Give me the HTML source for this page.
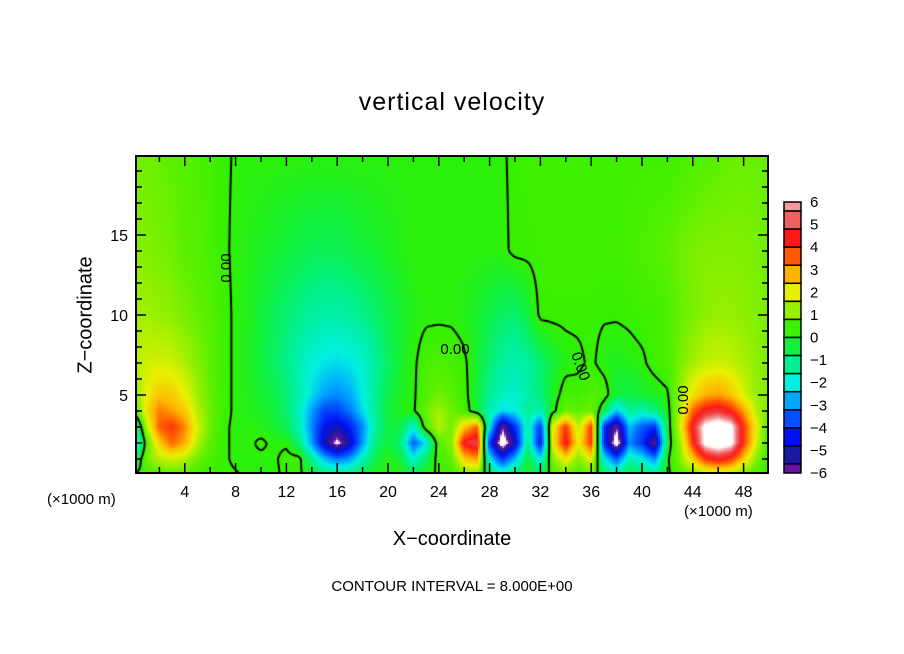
<!DOCTYPE html>
<html><head><meta charset="utf-8"><style>
body{margin:0;background:#fff;width:904px;height:654px;overflow:hidden;position:relative;font-family:"Liberation Sans",sans-serif}
.t{position:absolute;white-space:nowrap;color:#000}
</style></head><body>
<div class="t" style="left:0;width:904px;text-align:center;top:88px;font-size:25px;letter-spacing:1px">vertical velocity</div>
<div class="t" style="left:86px;top:315px;font-size:20px;transform:translate(-50%,-50%) rotate(-90deg)">Z−coordinate</div>
<div class="t" style="left:0;width:904px;text-align:center;top:528px;font-size:20px">X−coordinate</div>
<div class="t" style="left:47px;top:491px;font-size:15px">(×1000 m)</div>
<div class="t" style="left:684px;top:503px;font-size:15px">(×1000 m)</div>
<div class="t" style="left:0;width:904px;text-align:center;top:578px;font-size:15px">CONTOUR INTERVAL = 8.000E+00</div>
<canvas id="cv" width="904" height="654" style="position:absolute;left:0;top:0"></canvas>
<svg id="sv" width="904" height="654" style="position:absolute;left:0;top:0"></svg>
<script>
const xKm=[0,1,2,3,4,5,6,7,8,9,10,11,12,13,14,15,16,17,18,19,20,21,22,23,24,25,26,27,28,29,30,31,32,33,34,35,36,37,38,39,40,41,42,43,44,45,46,47,48,49,50];
const zKm=[0,1,2,3,4,5,7,10,14,20];
const w0=[0.1,0.2,0.4,0.5,0.4,0.2,0.1,0.1,0.05,-0.1,-0.1,-0.1,0.1,0.1,-0.3,-0.7,-0.9,-0.8,-0.5,-0.2,-0.1,-0.1,-0.5,-0.2,0.1,0.2,0.7,0.9,-0.6,-1.2,-0.7,-0.1,-0.6,0.3,0.6,0.3,0.6,-0.6,-1,-0.4,-0.6,-0.9,-0.1,0.3,0.7,1.2,1.3,1.2,0.7,0.3,0.1];
const w1=[-1,0.8,1.5,1.8,1.5,0.8,0.3,0.1,-0.1,-0.1,-0.1,-0.1,0.2,0.2,-1.2,-2.5,-3.2,-2.8,-1.6,-0.6,-0.2,-0.5,-1.8,-0.8,0.3,0.6,2.5,3,-2,-4,-2.5,-0.5,-2,1,2.2,1,2,-2,-3.5,-1.5,-2,-3,-0.1,1,2.5,4,4.5,4,2.5,1,0.1];
const w2=[-3,0.5,2.5,3.5,2.8,1.5,0.6,0.1,-0.1,-0.1,0.1,-0.1,-0.1,-1,-2.8,-5,-6.5,-5,-2.8,-1,-0.5,-1,-3.5,-2,0.5,1,4.5,5,-4,-7,-5,-1,-4.5,2,4.5,2,4,-4,-7,-3,-4,-6,-0.5,1.2,4,6.5,7,6.5,4,1.8,0.1];
const w3=[-2,1.5,3.6,4,3.2,1.8,0.8,0.1,-0.1,-0.1,-0.2,-0.4,-0.7,-1.5,-3,-4.5,-5,-4.3,-3,-1.3,-0.5,-0.6,-1.8,0.5,1.5,0.8,2.5,3.5,-2,-6,-4,-1.5,-4,2,4,1.5,4,-4,-6,-2.5,-3.5,-4,-0.5,1.8,4.5,6.5,7,6.5,4,2,0.3];
const w4=[0.3,2.2,3.3,3,2.5,1.5,0.8,0.2,-0.1,-0.2,-0.3,-0.5,-0.9,-1.6,-2.8,-3.8,-3.8,-3.2,-2.2,-1.2,-0.5,-0.2,-0.1,0.8,1.3,0.8,0.3,-0.4,-1.5,-2.2,-2,-1.2,-1.5,-0.2,0.8,0.6,0.8,-0.5,-2.5,-1.2,-1.5,-1,-0.3,1.5,3.5,4.5,4.8,4.2,3,1.5,0.8];
const w5=[1,2,2.6,2.5,2,1.3,0.7,0.2,-0.1,-0.2,-0.4,-0.6,-0.9,-1.4,-2.2,-2.8,-3,-2.7,-2,-1.2,-0.6,-0.3,-0.1,0.5,0.8,0.6,0.2,-0.5,-1.2,-1.6,-1.8,-1.4,-1,-0.3,0.3,0.2,0.5,0.3,-0.5,-0.6,-0.4,-0.3,-0.1,1.2,2.2,2.8,3,2.6,1.8,1.2,1];
const w7=[1.5,1.7,1.8,1.7,1.4,1,0.6,0.2,-0.1,-0.3,-0.5,-0.8,-1.1,-1.5,-1.9,-2.1,-2.2,-2.1,-1.8,-1.3,-0.8,-0.4,-0.1,0.3,0.4,0.3,0.1,-0.4,-0.9,-1.3,-1.5,-1.3,-0.9,-0.5,-0.2,-0.1,0.1,-0.2,-0.3,-0.2,-0.1,0.2,0.4,0.9,1.3,1.6,1.7,1.6,1.4,1.1,0.9];
const w10=[1.3,1.3,1.2,1.1,0.9,0.7,0.5,0.2,-0.1,-0.2,-0.5,-0.7,-0.9,-1.1,-1.3,-1.4,-1.4,-1.3,-1.1,-0.9,-0.6,-0.4,-0.2,-0.1,-0.1,-0.1,-0.2,-0.4,-0.6,-0.8,-0.9,-0.5,0.1,0.1,0.1,0.1,0.1,0.05,0.05,0.1,0.2,0.2,0.4,0.7,0.9,1.1,1.2,1.2,1.1,1,0.9];
const w14=[1,1,0.9,0.8,0.6,0.5,0.3,0.1,-0.1,-0.2,-0.3,-0.4,-0.5,-0.6,-0.7,-0.7,-0.7,-0.6,-0.5,-0.4,-0.3,-0.2,-0.1,-0.1,-0.1,-0.1,-0.1,-0.1,-0.1,-0.1,0.1,0.1,0.15,0.2,0.2,0.2,0.2,0.2,0.2,0.3,0.4,0.5,0.6,0.8,0.9,1,1,1,1,0.9,0.8];
const w20=[0.8,0.8,0.7,0.6,0.5,0.4,0.3,0.1,-0.05,-0.1,-0.1,-0.1,-0.1,-0.1,-0.1,-0.1,-0.1,-0.1,-0.1,-0.1,-0.1,-0.1,-0.1,-0.1,-0.1,-0.1,-0.1,-0.1,-0.1,-0.05,0.1,0.2,0.2,0.2,0.2,0.2,0.2,0.2,0.2,0.2,0.2,0.2,0.2,0.3,0.4,0.5,0.6,0.7,0.7,0.7,0.7];
const rows=[w0,w1,w2,w3,w4,w5,w7,w10,w14,w20];
const xTicks=[4,8,12,16,20,24,28,32,36,40,44,48];
const yTicks=[5,10,15];
const cbLabels=[6,5,4,3,2,1,0,-1,-2,-3,-4,-5,-6];
const cbColors=["#f59a9a","#f06060","#ff1818","#ff5a00","#ffb400","#e6f000","#96f000","#3cf000","#10f03c","#00f096","#00f0e0","#00a8ff","#0050ff","#0010f0","#1818a0","#6a10a8"];

const X0=136,X1=768,Y0=156,Y1=473;
const sx=x=>134+12.7*x, sz=z=>475-16*z;
const ix=p=>(p-134)/12.7, iz=p=>(475-p)/16;
function field(x,z){
  x=Math.max(0,Math.min(50,x)); z=Math.max(0,Math.min(20,z));
  let i=Math.min(49,Math.floor(x)), fx=x-i;
  let j=0; while(j<zKm.length-2 && z>zKm[j+1]) j++;
  let fz=(z-zKm[j])/(zKm[j+1]-zKm[j]);
  const a=rows[j][i]*(1-fx)+rows[j][i+1]*fx, b=rows[j+1][i]*(1-fx)+rows[j+1][i+1]*fx;
  return a*(1-fz)+b*fz;
}
const stops=[[-7,[255,255,255]],[-6.3,[255,255,255]],[-6,[106,16,168]],[-5.2,[24,24,160]],[-4.5,[0,16,240]],[-3.6,[0,80,255]],[-2.7,[0,168,255]],[-2,[0,240,224]],[-1.2,[0,240,150]],[-0.5,[16,240,60]],[0,[50,240,0]],[0.6,[90,240,0]],[1.3,[160,240,0]],[2,[235,240,0]],[2.8,[255,180,0]],[3.5,[255,100,0]],[4.3,[255,24,24]],[5,[240,70,70]],[5.7,[245,160,160]],[6.2,[255,255,255]],[8,[255,255,255]]];
function col(v){
  if(v<=stops[0][0])return stops[0][1];
  for(let k=0;k<stops.length-1;k++){const a=stops[k],b=stops[k+1];
    if(v<=b[0]){const f=(v-a[0])/(b[0]-a[0]);return a[1].map((c,n)=>Math.round(c+(b[1][n]-c)*f));}}
  return stops[stops.length-1][1];
}
const ctx=document.getElementById('cv').getContext('2d');
const st=2;
for(let py=Y0;py<Y1;py+=st)for(let px=X0;px<X1;px+=st){
  const c=col(field(ix(px+1),iz(py+1)));
  ctx.fillStyle=`rgb(${c[0]},${c[1]},${c[2]})`;ctx.fillRect(px,py,st,st);
}
function contour(level,lw){
  const g=3,nx=Math.ceil((X1-X0)/g),ny=Math.ceil((Y1-Y0)/g);
  const V=[];for(let j=0;j<=ny;j++){V[j]=[];for(let i=0;i<=nx;i++)V[j][i]=field(ix(X0+i*g),iz(Y0+j*g))-level;}
  ctx.strokeStyle='#000';ctx.lineWidth=lw;ctx.beginPath();
  const P=(i,j)=>[X0+i*g,Y0+j*g];
  for(let j=0;j<ny;j++)for(let i=0;i<nx;i++){
    const a=V[j][i],b=V[j][i+1],c=V[j+1][i+1],d=V[j+1][i];const pts=[];
    const e=(v1,v2,p1,p2)=>{const t=v1/(v1-v2);return[p1[0]+(p2[0]-p1[0])*t,p1[1]+(p2[1]-p1[1])*t];};
    if((a>0)!=(b>0))pts.push(e(a,b,P(i,j),P(i+1,j)));
    if((b>0)!=(c>0))pts.push(e(b,c,P(i+1,j),P(i+1,j+1)));
    if((c>0)!=(d>0))pts.push(e(c,d,P(i+1,j+1),P(i,j+1)));
    if((d>0)!=(a>0))pts.push(e(d,a,P(i,j+1),P(i,j)));
    for(let k=0;k+1<pts.length;k+=2){ctx.moveTo(pts[k][0],pts[k][1]);ctx.lineTo(pts[k+1][0],pts[k+1][1]);}
  }
  ctx.stroke();
}
ctx.save();ctx.beginPath();ctx.rect(X0,Y0,X1-X0,Y1-Y0);ctx.clip();
contour(0,2);contour(8,1);
ctx.restore();

const NS='http://www.w3.org/2000/svg',sv=document.getElementById('sv');
function mk(t,a,p){const e=document.createElementNS(NS,t);for(const k in a)e.setAttribute(k,a[k]);(p||sv).appendChild(e);return e;}
const frame=mk('rect',{x:X0,y:Y0,width:X1-X0,height:Y1-Y0,fill:'none',stroke:'#000','stroke-width':2});


for(let x=2;x<50;x+=2){const maj=x%4===0,L=maj?10:6;
  const t1=mk('line',{x1:sx(x),x2:sx(x),y1:Y1,y2:Y1-L,stroke:'#000','stroke-width':1.5});
  
  
  const t2=mk('line',{x1:sx(x),x2:sx(x),y1:Y0,y2:Y0+L,stroke:'#000','stroke-width':1.5});
  
  }
xTicks.forEach(x=>{const t=mk('text',{x:sx(x),y:497,'text-anchor':'middle','font-size':16,'font-family':'Liberation Sans'});t.textContent=x;
  
  });
for(let z=1;z<20;z++){const L=z%5===0?10:6;
  const t1=mk('line',{x1:X0,x2:X0+L,y1:sz(z),y2:sz(z),stroke:'#000','stroke-width':1.5});
  
  
  const t2=mk('line',{x1:X1,x2:X1-L,y1:sz(z),y2:sz(z),stroke:'#000','stroke-width':1.5});
  
  }
yTicks.forEach(z=>{const t=mk('text',{x:128,y:sz(z)+6,'text-anchor':'end','font-size':16,'font-family':'Liberation Sans'});t.textContent=z;
  
  });
[[231,268,-90],[455,354,0],[576,368,70],[688,400,-90]].forEach(p=>{const t=mk('text',{x:p[0],y:p[1],'text-anchor':'middle','font-size':15,'font-family':'Liberation Sans',transform:`rotate(${p[2]} ${p[0]} ${p[1]})`});t.textContent='0.00';
  
  });
const cbTop=202,cbBot=473,upu=(cbBot-cbTop)/12;
const cbY=v=>cbTop+(6-v)*upu;
const edges=[6,5.6];for(let k=1;k<=14;k++)edges.push(5.6-0.8*k);edges.push(-6);
cbColors.forEach((c,k)=>{const y1=cbY(edges[k]),y2=cbY(edges[k+1]);
  const r=mk('rect',{x:784,y:y1,width:17,height:y2-y1,fill:c,stroke:'#000','stroke-width':1.5});
  
  });
cbLabels.forEach(v=>{const t=mk('text',{x:810,y:cbY(v)+5,'font-size':15,'font-family':'Liberation Sans'});t.textContent=v<0?'−'+(-v):v;
  
  });
</script>
</body></html>
